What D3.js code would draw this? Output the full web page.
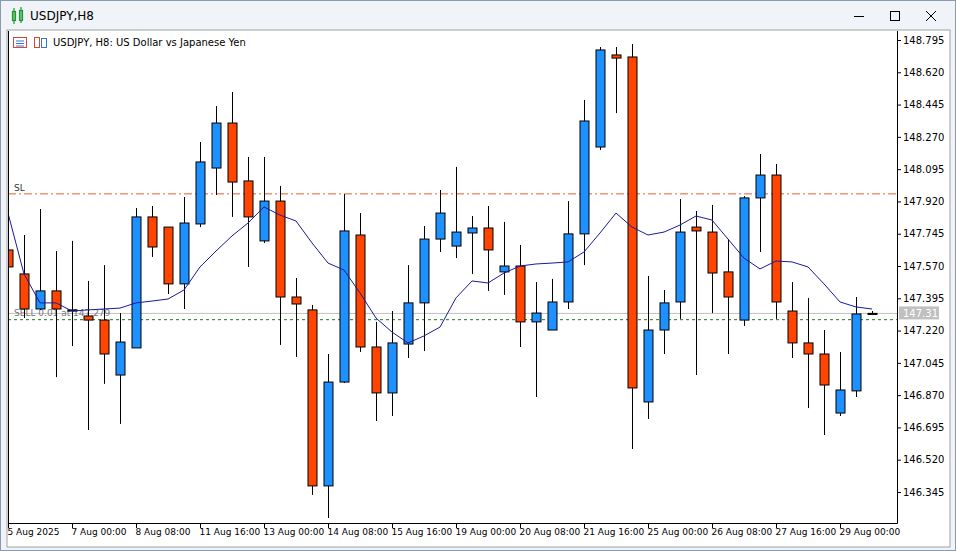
<!DOCTYPE html>
<html><head><meta charset="utf-8">
<script src="https://cdn.jsdelivr.net/npm/d3@7"></script>
<style>body{margin:0;background:#f0f0f0}svg text{font-family:"DejaVu Sans",sans-serif}</style>
</head><body><div id="chart"></div>
<script>
// candles (index 0 = left edge, partially clipped)
var opens  = [147.657,147.527,147.337,147.435,147.326,147.299,147.277,146.979,147.126,147.836,147.781,147.473,147.798,148.101,148.345,148.031,147.706,147.922,147.402,147.332,146.378,146.941,147.738,147.131,146.882,147.147,147.370,147.716,147.678,147.749,147.776,147.538,147.570,147.267,147.223,147.375,147.744,148.215,148.714,148.703,146.833,147.223,147.375,147.781,147.754,147.538,147.277,147.939,148.063,147.326,147.153,147.093,146.773,146.893,147.313];
var highs  = [147.668,147.738,147.879,147.651,147.706,147.489,147.575,147.315,147.884,147.895,147.781,147.944,148.242,148.437,148.513,148.161,148.161,148.004,147.505,147.359,147.093,147.960,147.857,147.267,147.326,147.575,147.787,147.982,148.107,147.841,147.895,147.809,147.684,147.483,147.500,147.922,148.470,148.757,148.757,148.773,147.516,147.440,147.933,147.868,147.901,147.716,147.949,148.177,148.123,147.483,147.397,147.223,147.104,147.402,147.326];
var lows   = [147.559,147.288,147.332,146.968,147.136,146.681,146.931,146.714,147.126,147.619,147.418,147.337,147.781,147.955,147.836,147.565,147.695,147.142,147.077,146.329,146.204,146.936,147.104,146.730,146.757,147.071,147.109,147.646,147.613,147.527,147.435,147.413,147.131,146.860,147.223,147.337,147.575,148.199,148.399,146.578,146.741,147.093,147.283,146.979,147.315,147.093,147.245,147.646,147.283,147.071,146.800,146.654,146.757,146.860,147.313];
var closes = [147.565,147.337,147.435,147.337,147.332,147.277,147.093,147.158,147.836,147.673,147.473,147.803,148.134,148.345,148.025,147.836,147.922,147.402,147.364,146.378,146.941,147.760,147.131,146.882,147.153,147.370,147.716,147.857,147.754,147.776,147.657,147.570,147.267,147.315,147.375,147.744,148.356,148.741,148.697,146.909,147.223,147.370,147.754,147.760,147.532,147.402,147.939,148.063,147.375,147.153,147.093,146.925,146.898,147.310,147.313];
var maValues = [147.857,147.527,147.370,147.370,147.326,147.332,147.337,147.342,147.370,147.380,147.391,147.440,147.565,147.651,147.733,147.803,147.890,147.846,147.814,147.695,147.586,147.548,147.424,147.288,147.212,147.153,147.191,147.239,147.397,147.489,147.478,147.532,147.570,147.581,147.586,147.592,147.646,147.749,147.857,147.781,147.738,147.754,147.792,147.841,147.819,147.716,147.613,147.554,147.597,147.592,147.565,147.473,147.375,147.348,147.337];
var priceTicks = [148.795,148.620,148.445,148.270,148.095,147.920,147.745,147.570,147.395,147.220,147.045,146.870,146.695,146.520,146.345];
var timeTickIdx = [0,4,8,12,16,20,24,28,32,36,40,44,48,52];
var timeTickLabels = ["5 Aug 2025","7 Aug 00:00","8 Aug 08:00","11 Aug 16:00","13 Aug 00:00","14 Aug 08:00","15 Aug 16:00","19 Aug 00:00","20 Aug 08:00","21 Aug 16:00","25 Aug 00:00","26 Aug 08:00","27 Aug 16:00","29 Aug 00:00"];
var slPrice = 147.961, bidPrice = 147.313, sellPrice = 147.279;

var W = 956, H = 551;
var svg = d3.select("#chart").append("svg").attr("width", W).attr("height", H);

// window frame
svg.append("rect").attr("width", W).attr("height", H).attr("fill", "#f0f4f9");
svg.append("rect").attr("x", 0.5).attr("y", 0.5).attr("width", W - 1).attr("height", H - 1).attr("fill", "none").attr("stroke", "#8a9bb0");
svg.append("text").attr("x", 30).attr("y", 20).attr("font-size", 12).attr("fill", "#000").text("USDJPY,H8");
var ic = svg.append("g").attr("stroke", "#1a9a2a").attr("fill", "none").attr("stroke-width", 1.2);
ic.append("rect").attr("x", 12.5).attr("y", 11.5).attr("width", 3).attr("height", 9);
ic.append("rect").attr("x", 19.5).attr("y", 10.5).attr("width", 3).attr("height", 10);
ic.append("path").attr("d", "M14,8V24M21,7V23");
var btn = svg.append("g").attr("stroke", "#000").attr("fill", "none");
btn.append("path").attr("d", "M854,16.5H864");
btn.append("rect").attr("x", 890.5).attr("y", 11.5).attr("width", 9).attr("height", 9);
btn.append("path").attr("d", "M926,11L936,21M936,11L926,21");

// chart panel
var plot = {l: 8, r: 897, t: 31, b: 523};
svg.append("rect").attr("x", 7).attr("y", 30).attr("width", 943).attr("height", 517).attr("fill", "#fff").attr("stroke", "#a0a0a0");
svg.append("path").attr("d", "M8.5,31V523.5H897.5V31").attr("fill", "none").attr("stroke", "#000");

var x = d3.scaleLinear().domain([0, 54]).range([8, 872]);
var y = d3.scaleLinear().domain([146.345, 148.795]).range([492, 40]);

svg.append("defs").append("clipPath").attr("id", "clip")
  .append("rect").attr("x", plot.l + 1).attr("y", plot.t).attr("width", plot.r - plot.l - 1).attr("height", plot.b - plot.t);
var g = svg.append("g").attr("clip-path", "url(#clip)");

// header
var hd = svg.append("g");
hd.append("rect").attr("x", 13.5).attr("y", 37.5).attr("width", 13).attr("height", 10).attr("fill", "#fff").attr("stroke", "#d04a3a");
hd.append("path").attr("d", "M16,41H24M16,43.5H24M16,46H24").attr("stroke", "#3a6fd0");
hd.append("rect").attr("x", 34.5).attr("y", 37.5).attr("width", 5).attr("height", 10).attr("fill", "#fff").attr("stroke", "#d04a3a");
hd.append("rect").attr("x", 41.5).attr("y", 38.5).attr("width", 5).attr("height", 9).attr("fill", "#fff").attr("stroke", "#2a7ad0");
hd.append("text").attr("x", 53).attr("y", 46).attr("font-size", 10).text("USDJPY, H8:  US Dollar vs Japanese Yen");

// horizontal lines
g.append("line").attr("x1", plot.l).attr("x2", plot.r).attr("y1", y(slPrice)).attr("y2", y(slPrice))
  .attr("stroke", "#e0602a").attr("stroke-dasharray", "8,3,2,3");
g.append("text").attr("x", 14).attr("y", y(slPrice) - 3).attr("font-size", 9).attr("fill", "#333").text("SL");
g.append("line").attr("x1", plot.l).attr("x2", plot.r).attr("y1", y(bidPrice)).attr("y2", y(bidPrice)).attr("stroke", "#c0c0c0");
g.append("line").attr("x1", plot.l).attr("x2", plot.r).attr("y1", y(sellPrice)).attr("y2", y(sellPrice))
  .attr("stroke", "#1a7a1a").attr("stroke-dasharray", "3,3");
g.append("text").attr("x", 14).attr("y", y(bidPrice) + 3).attr("font-size", 9).attr("fill", "#777").text("SELL 0.01 at 147.279");

// candles
var idx = d3.range(opens.length);
var cg = g.selectAll("g.c").data(idx).enter().append("g");
cg.append("line").attr("x1", function(i){return Math.round(x(i)) + 0.5;}).attr("x2", function(i){return Math.round(x(i)) + 0.5;})
  .attr("y1", function(i){return y(highs[i]);}).attr("y2", function(i){return y(lows[i]);}).attr("stroke", "#000");
cg.append("rect")
  .attr("x", function(i){return Math.round(x(i)) - 4;})
  .attr("y", function(i){return y(Math.max(opens[i], closes[i]));})
  .attr("width", 9)
  .attr("height", function(i){return Math.max(1, Math.abs(y(opens[i]) - y(closes[i])));})
  .attr("fill", function(i){return i == 54 ? "#000" : closes[i] >= opens[i] ? "#1e90ff" : "#ff4500";})
  .attr("stroke", "#000");

// moving average
g.append("path").datum(maValues)
  .attr("d", d3.line().x(function(d, i){return x(i);}).y(function(d){return y(d);}))
  .attr("fill", "none").attr("stroke", "#1a1aa0").attr("stroke-width", 1);

// price axis
var ya = svg.append("g").attr("transform", "translate(" + plot.r + ",0)")
  .call(d3.axisRight(y).tickValues(priceTicks).tickFormat(d3.format(".3f")).tickSize(4));
ya.select(".domain").remove();
ya.selectAll("text").attr("font-size", 10).attr("font-family", "DejaVu Sans").attr("x", 6);
svg.append("rect").attr("x", 899).attr("y", y(bidPrice) - 7).attr("width", 40).attr("height", 13).attr("fill", "#c0c0c0");
svg.append("text").attr("x", 903).attr("y", y(bidPrice) + 4).attr("font-size", 10).attr("fill", "#fff").text(d3.format(".3f")(bidPrice));

// time axis
var xa = svg.append("g").attr("transform", "translate(0," + plot.b + ")")
  .call(d3.axisBottom(x).tickValues(timeTickIdx).tickFormat(function(d, i){return timeTickLabels[i];}).tickSize(5));
xa.select(".domain").remove();
xa.selectAll("text").attr("font-size", 9).attr("font-family", "DejaVu Sans").attr("text-anchor", "start").attr("dx", -1).attr("y", 6);
</script></body></html>
